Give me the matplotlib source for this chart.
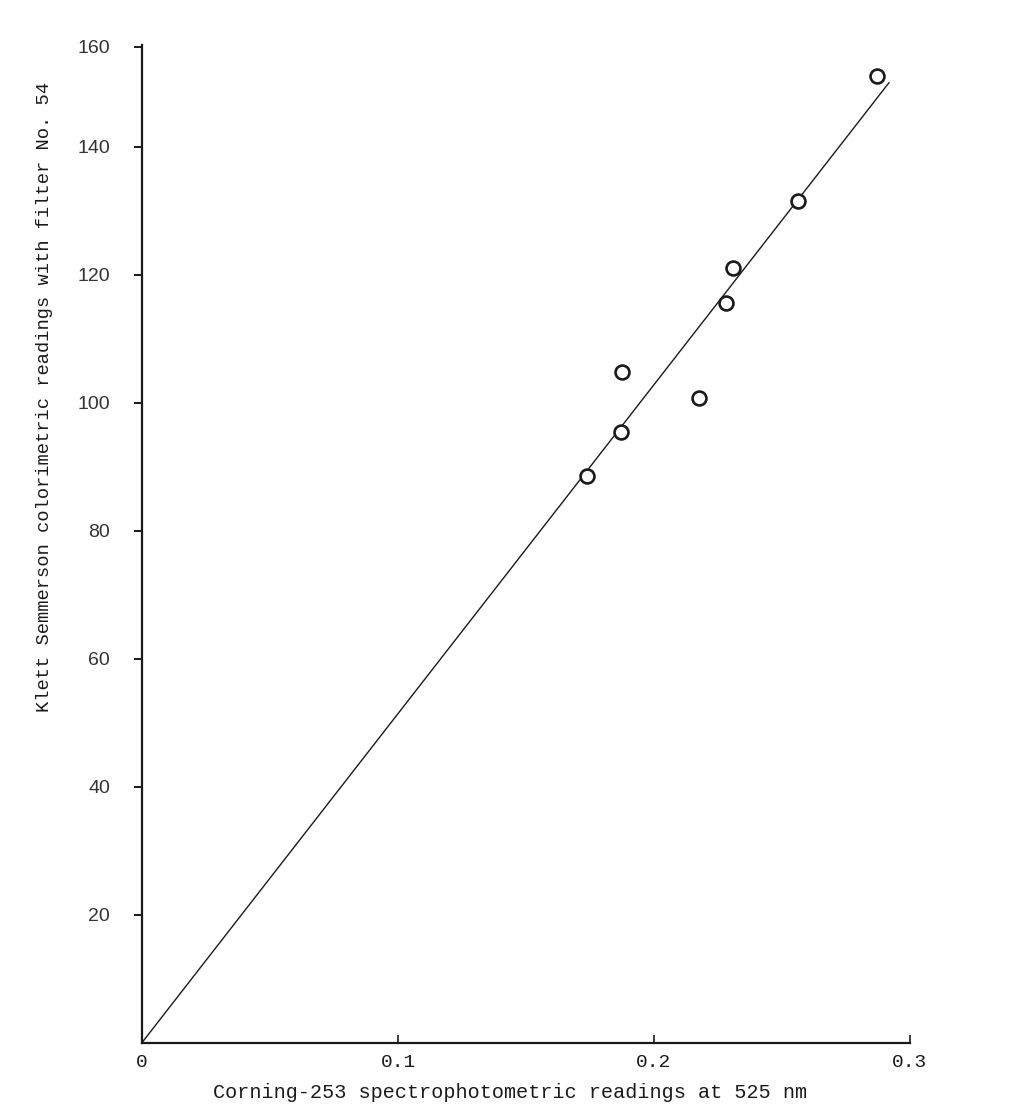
import matplotlib
matplotlib.use("Agg")
import matplotlib.pyplot as plt

# Corning-253 readings (x) vs Klett Semmerson readings (y)
corning = [0.1737, 0.1872, 0.1875, 0.2174, 0.2281, 0.2307, 0.2563, 0.2870]
klett = [88.6, 95.4, 104.8, 100.7, 115.5, 121.0, 131.5, 151.0]

# fitted line, drawn by hand from the origin
fit_x = [0.0, 0.2918]
fit_y = [0.0, 150.0]

xticks = [0, 0.1, 0.2, 0.3]
xticklabels = ["0", "0.1", "0.2", "0.3"]
yticks = [20, 40, 60, 80, 100, 120, 140, 155.6]   # top tick drawn short on the original
yticklabels = ["20", "40", "60", "80", "100", "120", "140", "160"]

ink = "#1a1a1a"
mono = "Liberation Mono"

fig = plt.figure(figsize=(10.19, 11.13), dpi=100)
ax = fig.add_axes([0.1394, 0.0633, 0.893 - 0.1394, 0.9596 - 0.0633])

ax.plot(fit_x, fit_y, color=ink, lw=1.0)
ax.plot(corning, klett, "o", ms=10, mfc="white", mec=ink, mew=1.9)

ax.set_xlim(0, 0.3)
ax.set_ylim(0, 155.9)

for s in ["top", "right"]:
    ax.spines[s].set_visible(False)
for s in ["left", "bottom"]:
    ax.spines[s].set_color(ink)
    ax.spines[s].set_linewidth(1.6)

ax.set_xticks(xticks)
ax.set_xticklabels(xticklabels, fontfamily=mono, fontsize=14, color=ink)
ax.tick_params(axis="x", direction="in", length=6, width=1.2, pad=8, colors=ink)

ax.set_yticks(yticks)
ax.set_yticklabels(yticklabels, fontfamily="Liberation Sans", fontsize=14)
ax.tick_params(axis="y", direction="out", length=6, width=1.4, pad=17, colors=ink)
for lbl in ax.get_yticklabels():
    lbl.set_color("#333333")

fig.text(45 / 1019, 1 - 397 / 1113,
         "Klett Semmerson colorimetric readings with filter No. 54",
         rotation=90, ha="center", va="center", fontfamily=mono, fontsize=13.5, color=ink)
fig.text(510 / 1019, 1 - 1092 / 1113,
         "Corning-253 spectrophotometric readings at 525 nm",
         ha="center", va="center", fontfamily=mono, fontsize=14.5, color=ink)

fig.savefig("out.png", dpi=100, facecolor="white")
